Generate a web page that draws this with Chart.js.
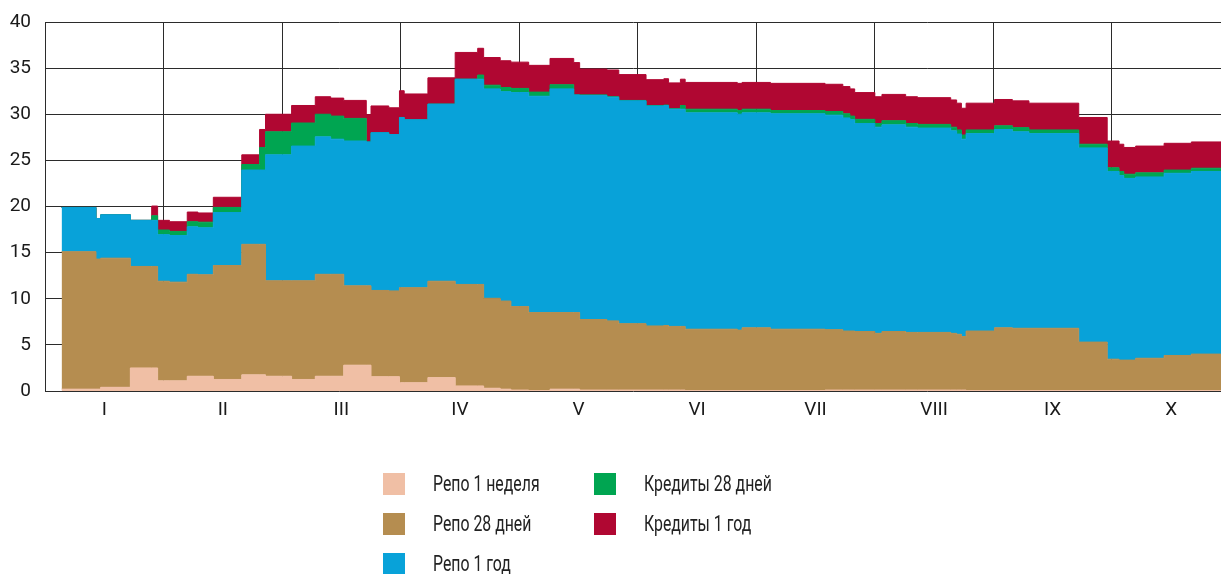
<!DOCTYPE html>
<html>
<head>
<meta charset="utf-8">
<script src="https://cdn.jsdelivr.net/npm/chart.js@4.4.0/dist/chart.umd.min.js"></script>
<style>
  html, body { margin: 0; padding: 0; background: #ffffff; }
  #wrap { position: relative; width: 1221px; height: 574px; overflow: hidden; }
  #legend { position: absolute; left: 0; top: 0; width: 1221px; height: 574px; pointer-events: none; }
  .item { position: absolute; height: 22px; }
  .sw { position: absolute; left: 0; top: 0; width: 22px; height: 22px; }
  .lb { position: absolute; left: 50px; top: 11px; transform-origin: 0 50%; transform: translateY(-50%) scaleX(0.72); white-space: nowrap;
        font-family: Roboto, 'Liberation Sans', sans-serif;
        font-size: 22px; color: #222; line-height: 1; }
</style>
</head>
<body>
<div id="wrap">
  <canvas id="c" width="1221" height="574"></canvas>
  <div id="legend"></div>
</div>
<script>
// Dates in months since 1 January (step start of each period)
const dates = [0.14, 0.43, 0.47, 0.72, 0.90, 0.95, 1.05, 1.20, 1.29, 1.42,
               1.66, 1.81, 1.86, 2.08, 2.28, 2.41, 2.52, 2.71, 2.75, 2.90,
               2.99, 3.03, 3.23, 3.46, 3.65, 3.70, 3.84, 3.93, 4.08, 4.26,
               4.46, 4.51, 4.74, 4.84, 5.07, 5.22, 5.26, 5.36, 5.40, 5.84,
               5.88, 6.12, 6.58, 6.73, 6.79, 6.83, 7.00, 7.06, 7.26, 7.36,
               7.64, 7.69, 7.73, 7.77, 8.01, 8.16, 8.30, 8.72, 8.96, 9.06,
               9.10, 9.20, 9.44, 9.67, 9.92];

const repo1w  = [0.2, 0.2, 0.4, 2.5, 2.5, 1.1, 1.1, 1.6, 1.6, 1.25,
                 1.75, 1.75, 1.6, 1.25, 1.6, 1.6, 2.8, 2.8, 1.55, 1.55,
                 0.9, 0.9, 1.45, 0.55, 0.55, 0.3, 0.2, 0.1, 0.05, 0.2,
                 0.2, 0.1, 0.1, 0.1, 0.1, 0.1, 0.1, 0.1, 0.05, 0.05,
                 0.05, 0.05, 0.1, 0.1, 0.1, 0.1, 0.1, 0.1, 0.1, 0.1,
                 0.1, 0.1, 0.1, 0.05, 0.05, 0.05, 0.05, 0.05, 0.05, 0.05,
                 0.05, 0.05, 0.05, 0.05, 0.05];

const repo28d = [14.9, 14.1, 14.0, 11.0, 11.0, 10.8, 10.7, 11.05, 11.0, 12.35,
                 14.15, 14.15, 10.35, 10.7, 11.05, 11.05, 8.6, 8.6, 9.35, 9.3,
                 10.3, 10.3, 10.45, 11.0, 11.0, 9.75, 9.55, 9.05, 8.45, 8.3,
                 8.3, 7.65, 7.5, 7.2, 6.95, 7.0, 6.9, 6.9, 6.65, 6.55,
                 6.8, 6.65, 6.55, 6.4, 6.4, 6.35, 6.15, 6.35, 6.25, 6.25,
                 6.15, 6.05, 5.8, 6.45, 6.8, 6.75, 6.75, 5.25, 3.4, 3.3,
                 3.3, 3.5, 3.8, 3.95, 3.95];

const repo1y  = [4.8, 4.4, 4.7, 5.0, 5.0, 5.05, 5.05, 5.15, 5.1, 5.75,
                 8.05, 8.05, 13.65, 14.6, 14.9, 14.65, 15.7, 15.6, 17.1, 16.95,
                 18.45, 18.2, 19.2, 22.25, 22.25, 22.7, 22.7, 23.2, 23.45, 24.25,
                 23.6, 24.3, 24.25, 24.15, 23.85, 23.85, 23.55, 23.55, 23.45, 23.4,
                 23.3, 23.35, 23.25, 23.1, 22.9, 22.55, 22.35, 22.4, 22.25, 22.15,
                 21.95, 21.7, 21.4, 21.4, 21.5, 21.3, 21.1, 21.05, 20.35, 20.0,
                 19.7, 19.65, 19.75, 19.8, 19.8];

const credit28d = [0, 0, 0, 0, 0.5, 0.5, 0.45, 0.55, 0.6, 0.55,
                   0.6, 2.45, 2.5, 2.5, 2.45, 2.5, 2.45, 0, 0, 0,
                   0, 0, 0, 0, 0.45, 0.4, 0.45, 0.45, 0.45, 0.45,
                   0, 0.05, 0.05, 0.05, 0.05, 0.05, 0.05, 0.4, 0.4, 0.4,
                   0.4, 0.35, 0.4, 0.45, 0.4, 0.45, 0.4, 0.45, 0.4, 0.4,
                   0.4, 0.45, 0.45, 0.4, 0.4, 0.45, 0.4, 0.4, 0.4, 0.45,
                   0.45, 0.45, 0.35, 0.35, 0.35];

const credit1y = [0, 0, 0, 0, 1.05, 1.05, 1.05, 1.05, 1.0, 1.1,
                  1.05, 1.95, 1.9, 1.9, 1.9, 1.95, 1.95, 2.95, 2.9, 2.9,
                  2.9, 2.8, 2.85, 2.9, 2.9, 3.0, 2.9, 2.85, 2.9, 2.85,
                  3.5, 2.8, 2.9, 2.8, 2.8, 2.85, 2.8, 2.85, 2.9, 2.95,
                  2.9, 2.95, 2.95, 2.95, 2.95, 2.9, 2.9, 2.85, 2.9, 2.9,
                  2.95, 2.9, 2.9, 2.9, 2.85, 2.9, 2.9, 2.9, 2.9, 2.95,
                  2.9, 2.9, 2.9, 2.85, 2.85];

const seriesLabels = ['Репо 1 неделя', 'Репо 28 дней', 'Репо 1 год', 'Кредиты 28 дней', 'Кредиты 1 год'];
const seriesColors = ['#F0BFA5', '#B58D50', '#08A2D9', '#00A551', '#B00732'];
const monthLabels = ['I', 'II', 'III', 'IV', 'V', 'VI', 'VII', 'VIII', 'IX', 'X'];
const yTicks = [0, 5, 10, 15, 20, 25, 30, 35, 40];

const FONT = "Roboto, 'Liberation Sans', sans-serif";
const xMax = dates[dates.length - 1];

const seriesValues = [repo1w, repo28d, repo1y, credit28d, credit1y];
const datasets = seriesValues.map((vals, k) => ({
  label: seriesLabels[k],
  data: dates.map((d, i) => ({ x: d, y: vals[i] })),
  backgroundColor: seriesColors[k],
  borderColor: seriesColors[k],
  borderWidth: 1,
  stepped: true,
  fill: k === 0 ? 'origin' : '-1',
  pointRadius: 0,
  tension: 0
}));

const chart = new Chart(document.getElementById('c'), {
  type: 'line',
  data: { datasets },
  options: {
    responsive: false,
    animation: false,
    layout: { padding: { top: 22, right: 0, bottom: 143, left: 0 } },
    plugins: { legend: { display: false }, tooltip: { enabled: false } },
    scales: {
      x: {
        type: 'linear',
        min: 0,
        max: xMax,
        afterBuildTicks: (s) => {
          const t = [];
          for (let m = 0; m < monthLabels.length; m++) { t.push({ value: m }); t.push({ value: m + 0.5 }); }
          s.ticks = t;
        },
        afterFit: (s) => { s.height = 40; s.paddingTop = 0; s.paddingBottom = 0; s.paddingLeft = 0; s.paddingRight = 0; },
        grid: {
          color: (ctx) => (ctx.tick && Number.isInteger(ctx.tick.value)) ? '#2b2b2b' : 'rgba(0,0,0,0)',
          drawTicks: false,
          lineWidth: 1
        },
        border: { display: false },
        ticks: {
          autoSkip: false,
          maxRotation: 0,
          padding: 8,
          color: '#1a1a1a',
          font: { family: FONT, size: 19 },
          callback: (v) => Number.isInteger(v) ? '' : monthLabels[Math.floor(v)]
        }
      },
      y: {
        stacked: true,
        min: 0,
        max: 40,
        afterBuildTicks: (s) => { s.ticks = yTicks.map(v => ({ value: v })); },
        afterFit: (s) => { s.width = 45; s.paddingTop = 0; s.paddingBottom = 0; },
        grid: { color: '#2b2b2b', drawTicks: false, lineWidth: 1 },
        border: { color: '#2b2b2b', width: 1 },
        ticks: {
          padding: 14,
          color: '#1a1a1a',
          font: { family: FONT, size: 19 }
        }
      }
    }
  }
});

// HTML legend built from the chart's datasets, arranged in two columns
const legendPos = [
  { left: 383, top: 473 },
  { left: 383, top: 513 },
  { left: 383, top: 553 },
  { left: 594, top: 473 },
  { left: 594, top: 513 }
];
const legendEl = document.getElementById('legend');
chart.data.datasets.forEach((ds, i) => {
  const item = document.createElement('div');
  item.className = 'item';
  item.style.left = legendPos[i].left + 'px';
  item.style.top = legendPos[i].top + 'px';
  const sw = document.createElement('div');
  sw.className = 'sw';
  sw.style.background = ds.backgroundColor;
  const lb = document.createElement('div');
  lb.className = 'lb';
  lb.textContent = ds.label;
  item.appendChild(sw);
  item.appendChild(lb);
  legendEl.appendChild(item);
});
</script>
</body>
</html>
